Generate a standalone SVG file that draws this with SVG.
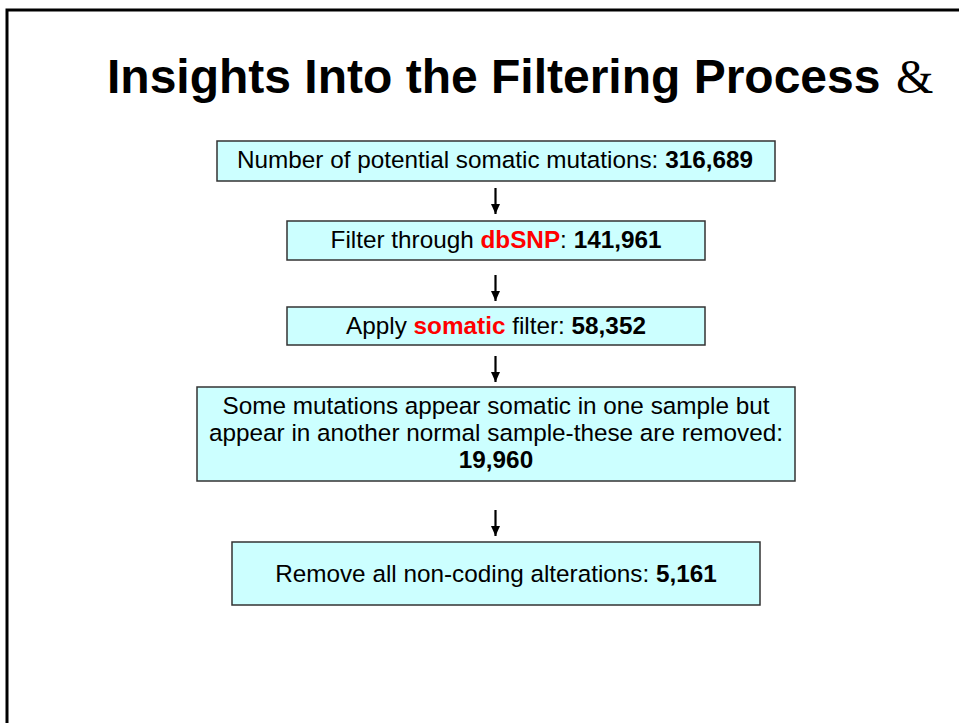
<svg xmlns="http://www.w3.org/2000/svg" width="959" height="723" viewBox="0 0 959 723">
  <defs>
    <style>
      .box { fill: #CCFFFF; stroke: #333333; stroke-width: 1.5; }
      .t { font-family: "Liberation Sans", Arial, sans-serif; font-size: 24.3px; fill: #000000; text-anchor: middle; }
      .b { font-weight: bold; }
      .red { fill: #FF0000; font-weight: bold; }
      .arrow { stroke: #000000; stroke-width: 2.2; fill: none; }
    </style>
    <marker id="head" viewBox="0 0 10 10" refX="10" refY="5" markerWidth="10" markerHeight="10" orient="auto" markerUnits="userSpaceOnUse">
      <path d="M0,0.5 L10,5 L0,9.5 Z" fill="#000000"/>
    </marker>
  </defs>
  <rect x="0" y="0" width="959" height="723" fill="#FFFFFF"/>
  <g id="frame">
    <path d="M7,723 L7,10 L959,10" fill="none" stroke="#000000" stroke-width="3"/>
  </g>
  <g id="title">
    <text x="107" y="93" font-family="'Liberation Sans', Arial, sans-serif" font-size="48" font-weight="bold">Insights Into the Filtering Process</text>
    <text x="896" y="93" font-family="'Liberation Serif', 'Times New Roman', serif" font-size="48">&amp;</text>
  </g>
  <g id="connectors">
    <line class="arrow" x1="495.5" y1="188" x2="495.5" y2="214" marker-end="url(#head)"/>
    <line class="arrow" x1="495.5" y1="275" x2="495.5" y2="301" marker-end="url(#head)"/>
    <line class="arrow" x1="495.5" y1="356" x2="495.5" y2="382" marker-end="url(#head)"/>
    <line class="arrow" x1="495.5" y1="510" x2="495.5" y2="536" marker-end="url(#head)"/>
  </g>
  <g id="node1">
    <rect class="box" x="217" y="141" width="558" height="40"/>
    <text class="t" x="495" y="168">Number of potential somatic mutations: <tspan class="b">316,689</tspan></text>
  </g>
  <g id="node2">
    <rect class="box" x="287" y="221" width="418" height="39"/>
    <text class="t" x="496" y="248">Filter through <tspan class="red">dbSNP</tspan>: <tspan class="b">141,961</tspan></text>
  </g>
  <g id="node3">
    <rect class="box" x="287" y="307" width="418" height="38"/>
    <text class="t" x="496" y="334">Apply <tspan class="red">somatic</tspan> filter: <tspan class="b">58,352</tspan></text>
  </g>
  <g id="node4">
    <rect class="box" x="197" y="387" width="598" height="94"/>
    <text class="t" x="496" y="414">Some mutations appear somatic in one sample but</text>
    <text class="t" x="496" y="441">appear in another normal sample-these are removed:</text>
    <text class="t b" x="496" y="468">19,960</text>
  </g>
  <g id="node5">
    <rect class="box" x="232" y="542" width="528" height="63"/>
    <text class="t" x="496" y="582">Remove all non-coding alterations: <tspan class="b">5,161</tspan></text>
  </g>
</svg>
